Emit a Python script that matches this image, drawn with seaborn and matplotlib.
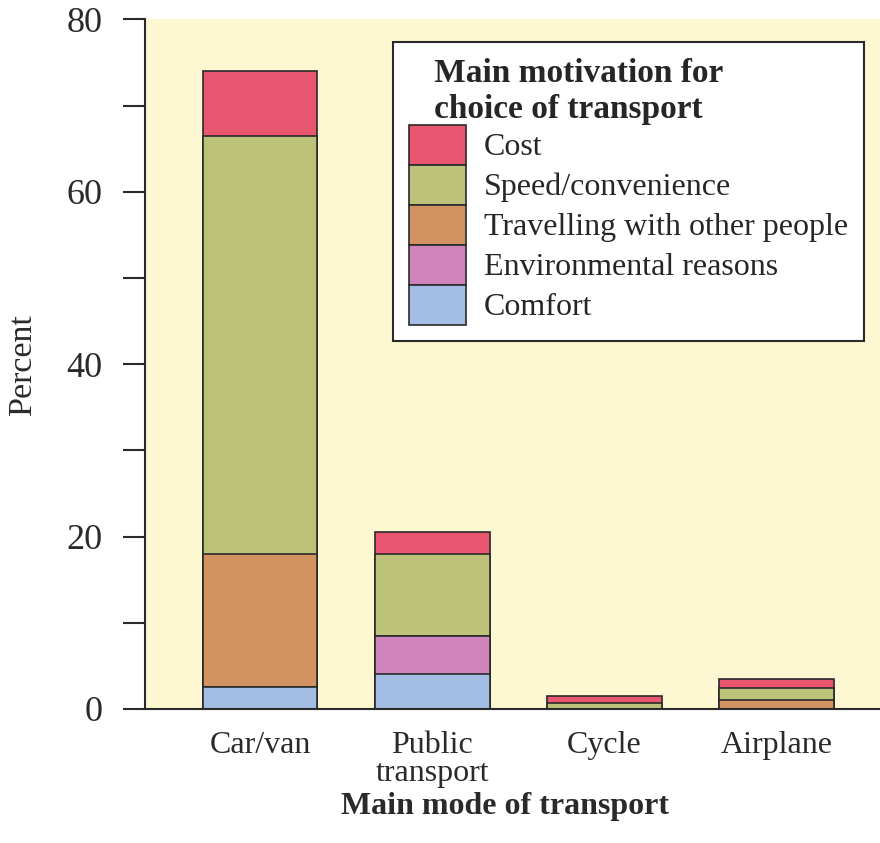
import numpy as np
import pandas as pd
import matplotlib
matplotlib.use("Agg")
import matplotlib.pyplot as plt
import seaborn as sns
from matplotlib.patches import Patch

modes = ["Car/van", "Public\ntransport", "Cycle", "Airplane"]
# stacked from the bottom up
comfort = [2.5, 4.0, 0.0, 0.0]
environmental = [0.0, 4.5, 0.0, 0.0]
travelling = [15.5, 0.0, 0.0, 1.0]
speed = [48.5, 9.5, 0.7, 1.4]
cost = [7.5, 2.5, 0.8, 1.1]

layer_names = ["Comfort", "Environmental reasons", "Travelling with other people",
               "Speed/convenience", "Cost"]
layer_values = [comfort, environmental, travelling, speed, cost]
layer_colors = ["#A3BDE4", "#CF85BB", "#D29262", "#BCC27A", "#E9566F"]

sns.set_style("ticks")
plt.rcParams["font.family"] = ["Liberation Serif", "DejaVu Serif"]

fig = plt.figure(figsize=(8.8, 8.43), dpi=100)
ax = fig.add_axes([0.165, 0.159, 0.835, 0.818])
ax.set_facecolor("#FEF8D2")

cum = np.cumsum(np.array(layer_values), axis=0)
# draw cumulative totals from top layer down so each segment shows
for i in range(len(layer_names) - 1, -1, -1):
    df = pd.DataFrame({"mode": modes, "value": cum[i]})
    sns.barplot(data=df, x="mode", y="value", color=layer_colors[i],
                saturation=1, width=0.667, edgecolor="#2a2a2a",
                linewidth=1.2, ax=ax, errorbar=None)

ax.set_xlim(-0.667, 3.6)
ax.set_ylim(0, 80)
ax.set_yticks([0, 20, 40, 60, 80])
ax.set_yticks([10, 30, 50, 70], minor=True)
ax.tick_params(axis="y", which="both", length=16, width=1.5, labelsize=26,
               pad=15, colors="#2a2a2a")
ax.tick_params(axis="x", length=0, labelsize=23, pad=16, colors="#2a2a2a")
for lbl in ax.get_xticklabels():
    lbl.set_linespacing(0.95)

for s in ["top", "right"]:
    ax.spines[s].set_visible(False)
for s in ["left", "bottom"]:
    ax.spines[s].set_linewidth(1.5)
    ax.spines[s].set_color("#2a2a2a")

ax.set_ylabel("Percent", fontsize=24.5, labelpad=20, color="#2a2a2a")
ax.set_xlabel("Main mode of transport", fontsize=23, fontweight="bold",
              labelpad=3, color="#2a2a2a")
ax.xaxis.label.set_x(0.49)

handles = [Patch(facecolor=layer_colors[i], edgecolor="#2a2a2a", linewidth=1.2,
                 label=layer_names[i]) for i in range(len(layer_names) - 1, -1, -1)]
leg = ax.legend(handles=handles, loc="upper right", bbox_to_anchor=(0.978, 0.967),
                borderaxespad=0,
                fontsize=23, title="   Main motivation for\n   choice of transport",
                title_fontproperties={"weight": "bold", "size": 24},
                alignment="left", frameon=True, fancybox=False,
                labelspacing=0.0, handleheight=1.55, handlelength=1.8,
                handletextpad=0.55, borderpad=0.5)
leg.get_frame().set_edgecolor("#2a2a2a")
leg.get_frame().set_linewidth(1.5)
leg.get_frame().set_facecolor("white")
leg.get_frame().set_alpha(1)

fig.savefig("out.png", dpi=100)
